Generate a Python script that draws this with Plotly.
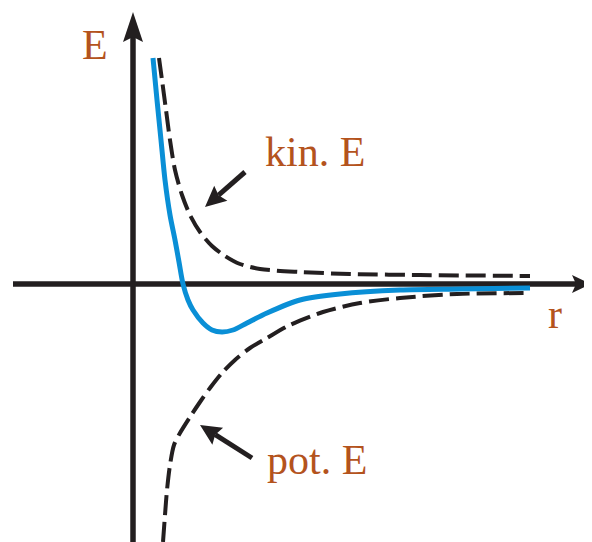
import numpy as np
import plotly.graph_objects as go

# ---- data (r, E) ----
total_r = [0.20, 0.24, 0.28, 0.32, 0.37, 0.42, 0.46, 0.50, 0.55, 0.60, 0.70, 0.79, 0.89, 1.00, 1.14, 1.34, 1.67, 2.07, 2.67, 3.27, 3.97]
total_E = [2.26, 1.84, 1.44, 1.04, 0.69, 0.44, 0.22, 0.00, -0.16, -0.26, -0.39, -0.46, -0.48, -0.46, -0.39, -0.29, -0.16, -0.10, -0.06, -0.05, -0.04]

kin_r = [0.26, 0.29, 0.33, 0.37, 0.42, 0.49, 0.57, 0.67, 0.79, 0.92, 1.07, 1.27, 1.67, 2.17, 2.87, 3.97]
kin_E = [2.26, 2.04, 1.74, 1.44, 1.14, 0.89, 0.69, 0.52, 0.38, 0.28, 0.20, 0.15, 0.12, 0.10, 0.09, 0.08]

pot_r = [0.30, 0.32, 0.34, 0.37, 0.41, 0.47, 0.57, 0.67, 0.77, 0.89, 1.02, 1.17, 1.34, 1.57, 1.90, 2.27, 2.67, 3.24, 3.97]
pot_E = [-2.58, -2.31, -2.06, -1.81, -1.61, -1.49, -1.33, -1.18, -1.04, -0.89, -0.76, -0.64, -0.54, -0.41, -0.28, -0.19, -0.14, -0.10, -0.09]

labels = ["E", "r", "kin. E", "pot. E"]

# page has an 8px body margin; ranges chosen so the origin lands where it should
X_RANGE = [-1.25, 4.67]
Y_RANGE = [-2.66, 2.76]

BLACK = "#231f20"
BLUE = "#0a8fd6"
BROWN = "#b4531d"

fig = go.Figure()
fig.add_trace(go.Scatter(x=kin_r, y=kin_E, mode="lines", line=dict(color=BLACK, width=4, dash="20px,7px", shape="spline", smoothing=0.8), hoverinfo="skip"))
fig.add_trace(go.Scatter(x=pot_r, y=pot_E, mode="lines", line=dict(color=BLACK, width=4, dash="20px,7px", shape="spline", smoothing=0.8), hoverinfo="skip"))
fig.add_trace(go.Scatter(x=total_r, y=total_E, mode="lines", line=dict(color=BLUE, width=5, shape="spline", smoothing=0.8), hoverinfo="skip"))

shapes = []

def arrow(tail, tip, width, head_len, head_half, notch, layer="above"):
    tail = np.array(tail, float); tip = np.array(tip, float)
    d = tip - tail; d /= np.linalg.norm(d)
    n = np.array([-d[1], d[0]])
    base = tip - d * head_len
    inner = tip - d * (head_len - notch)
    shapes.append(dict(type="line", xref="x", yref="y", x0=tail[0], y0=tail[1], x1=inner[0], y1=inner[1],
                       line=dict(color=BLACK, width=width), layer=layer))
    p1 = base + n * head_half; p2 = base - n * head_half
    path = f"M{tip[0]},{tip[1]} L{p1[0]},{p1[1]} L{inner[0]},{inner[1]} L{p2[0]},{p2[1]} Z"
    shapes.append(dict(type="path", xref="x", yref="y", path=path, fillcolor=BLACK,
                       line=dict(color=BLACK, width=0), layer=layer))

# axes
arrow((0, -2.70), (0, 2.72), 5.5, 0.30, 0.10, 0.05, layer="below")
arrow((-1.20, 0), (4.58, 0), 5.5, 0.19, 0.09, 0.04, layer="below")
# pointer arrows
arrow((1.12, 1.12), (0.72, 0.77), 5, 0.21, 0.10, 0.03)
arrow((1.19, -1.74), (0.67, -1.41), 5, 0.21, 0.10, 0.03)

fig.update_layout(shapes=shapes)

font = dict(family="Liberation Serif, Times New Roman, serif", size=42, color=BROWN)
ann = [
    dict(x=-0.38, y=2.39, text=labels[0], xanchor="center", yanchor="middle"),
    dict(x=4.22, y=-0.30, text=labels[1], xanchor="center", yanchor="middle"),
    dict(x=1.30, y=1.32, text=labels[2], xanchor="left", yanchor="middle"),
    dict(x=1.32, y=-1.76, text=labels[3], xanchor="left", yanchor="middle"),
]
for a in ann:
    a.update(xref="x", yref="y", showarrow=False, font=font)
fig.update_layout(annotations=ann)

fig.update_layout(
    width=592, height=542, margin=dict(l=0, r=0, t=0, b=0),
    paper_bgcolor="white", plot_bgcolor="white", showlegend=False,
    xaxis=dict(range=X_RANGE, visible=False, fixedrange=True),
    yaxis=dict(range=Y_RANGE, visible=False, fixedrange=True),
)
fig.write_html("out.html")
